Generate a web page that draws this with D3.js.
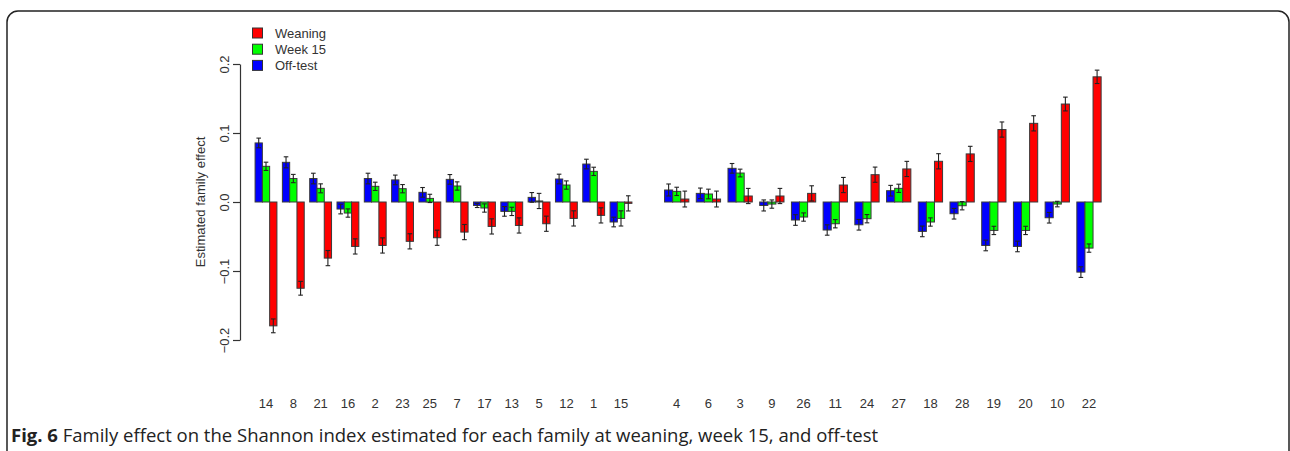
<!DOCTYPE html>
<html>
<head>
<meta charset="utf-8">
<script src="https://cdn.jsdelivr.net/npm/d3@7"></script>
<style>
  html, body { margin: 0; padding: 0; background: #fff; }
  svg { display: block; }
</style>
</head>
<body>
<svg id="chart" width="1290" height="451"></svg>
<script>
// ---------- data ----------
const categoriesLeft  = ["14","8","21","16","2","23","25","7","17","13","5","12","1","15"];
const categoriesRight = ["4","6","3","9","26","11","24","27","18","28","19","20","10","22"];

const seriesNames = ["Weaning", "Week 15", "Off-test"];
const seriesColors = ["#ff0000", "#00ff00", "#0000ff"];

// values, left block then right block
const weaning = [-0.1795, -0.125, -0.0813, -0.0644, -0.063, -0.057, -0.0518, -0.0436, -0.0354, -0.034, -0.0315, -0.0238, -0.0194, -0.002,
                  0.0043, 0.0043, 0.0087, 0.0087, 0.0125, 0.0246, 0.0396, 0.0479, 0.059, 0.0697, 0.105, 0.114, 0.142, 0.1814];
const week15  = [0.0517, 0.034, 0.0198, -0.016, 0.0227, 0.0193, 0.0052, 0.0232, -0.0087, -0.0136, 0.0015, 0.0246, 0.0444, -0.0238,
                  0.0154, 0.0116, 0.042, -0.003, -0.0218, -0.0315, -0.0242, 0.0198, -0.029, -0.0054, -0.0412, -0.0412, -0.003, -0.0668];
const offtest = [0.0856, 0.0575, 0.034, -0.0102, 0.034, 0.032, 0.014, 0.0328, -0.005, -0.0136, 0.0067, 0.0333, 0.055, -0.029,
                  0.0174, 0.0125, 0.0488, -0.005, -0.0261, -0.0406, -0.033, 0.0164, -0.0426, -0.017, -0.063, -0.0644, -0.0228, -0.1016];

// standard errors
const weaningSE = [0.010, 0.010, 0.011, 0.011, 0.011, 0.011, 0.011, 0.011, 0.011, 0.011, 0.011, 0.011, 0.011, 0.011,
                   0.0115, 0.0115, 0.011, 0.011, 0.011, 0.011, 0.011, 0.011, 0.011, 0.011, 0.011, 0.011, 0.010, 0.0097];
const week15SE  = [0.006, 0.006, 0.0065, 0.006, 0.006, 0.006, 0.006, 0.006, 0.006, 0.006, 0.011, 0.006, 0.006, 0.011,
                   0.006, 0.007, 0.0056, 0.006, 0.006, 0.006, 0.006, 0.006, 0.006, 0.006, 0.006, 0.006, 0.004, 0.006];
const offtestSE = [0.007, 0.008, 0.0077, 0.007, 0.0077, 0.007, 0.007, 0.007, 0.003, 0.007, 0.007, 0.007, 0.007, 0.007,
                   0.0087, 0.0077, 0.007, 0.008, 0.0077, 0.0075, 0.0077, 0.0077, 0.0077, 0.0077, 0.0077, 0.0077, 0.0077, 0.0077];

const yTicks = [-0.2, -0.1, 0.0, 0.1, 0.2];
const yTitle = "Estimated family effect";
const captionBold = "Fig. 6";
const captionText = " Family effect on the Shannon index estimated for each family at weaning, week 15, and off-test";

// ---------- layout ----------
const svg = d3.select("#chart");

// frame
svg.append("rect")
  .attr("x", 7).attr("y", 11).attr("width", 1282).attr("height", 470)
  .attr("rx", 11).attr("ry", 11)
  .attr("fill", "none").attr("stroke", "#222").attr("stroke-width", 1.5);

const y = d3.scaleLinear().domain([-0.2, 0.2]).range([340, 64]);

const xLeft = d3.scaleBand().domain(categoriesLeft).range([252.35, 634.65]).paddingInner(0.2).paddingOuter(0.1);
const xRight = d3.scaleBand().domain(categoriesRight).range([660.85, 1104.85]).paddingInner(0.234).paddingOuter(0.117);

const allCats = categoriesLeft.concat(categoriesRight);
function groupScale(i) { return i < categoriesLeft.length ? xLeft : xRight; }

const seriesOrder = ["Off-test", "Week 15", "Weaning"];
const seriesData = {
  "Weaning": { v: weaning, se: weaningSE, c: seriesColors[0] },
  "Week 15": { v: week15, se: week15SE, c: seriesColors[1] },
  "Off-test": { v: offtest, se: offtestSE, c: seriesColors[2] }
};

const bars = [];
allCats.forEach((cat, i) => {
  const xs = groupScale(i);
  const inner = d3.scaleBand().domain(seriesOrder).range([0, xs.bandwidth()]);
  seriesOrder.forEach(s => {
    const d = seriesData[s];
    bars.push({ x: xs(cat) + inner(s), w: inner.bandwidth(), v: d.v[i], se: d.se[i], c: d.c });
  });
});

const g = svg.append("g");
g.selectAll("rect.bar").data(bars).enter().append("rect")
  .attr("class", "bar")
  .attr("x", d => d.x)
  .attr("y", d => Math.min(y(d.v), y(0)))
  .attr("width", d => d.w)
  .attr("height", d => Math.max(Math.abs(y(d.v) - y(0)), 0.8))
  .attr("fill", d => d.c)
  .attr("stroke", "#3a3a3a").attr("stroke-width", 1);

// error bars
const eb = g.selectAll("g.err").data(bars).enter().append("g").attr("class", "err")
  .attr("stroke", "#222").attr("stroke-width", 1.1);
eb.append("line")
  .attr("x1", d => d.x + d.w / 2).attr("x2", d => d.x + d.w / 2)
  .attr("y1", d => y(d.v + d.se)).attr("y2", d => y(d.v - d.se));
eb.append("line")
  .attr("x1", d => d.x + d.w / 2 - 2.3).attr("x2", d => d.x + d.w / 2 + 2.3)
  .attr("y1", d => y(d.v + d.se)).attr("y2", d => y(d.v + d.se));
eb.append("line")
  .attr("x1", d => d.x + d.w / 2 - 2.3).attr("x2", d => d.x + d.w / 2 + 2.3)
  .attr("y1", d => y(d.v - d.se)).attr("y2", d => y(d.v - d.se));

// y axis
const yAxis = d3.axisLeft(y).tickValues(yTicks).tickFormat(d3.format(".1f")).tickSize(7).tickSizeOuter(0);
const ya = svg.append("g").attr("transform", "translate(240,0)").call(yAxis);
ya.select(".domain").attr("stroke", "#333").attr("stroke-width", 1.2);
ya.selectAll(".tick line").attr("stroke", "#333").attr("stroke-width", 1.2);
ya.selectAll(".tick text")
  .attr("font-family", "Liberation Sans, Arial, sans-serif").attr("font-size", 13).attr("fill", "#333")
  .attr("text-anchor", "middle")
  .attr("x", 0).attr("y", 0).attr("dy", 0)
  .attr("transform", "translate(-11,0) rotate(-90)");

// y title
svg.append("text")
  .attr("transform", "translate(205,202) rotate(-90)")
  .attr("text-anchor", "middle")
  .attr("font-family", "Liberation Sans, Arial, sans-serif").attr("font-size", 13).attr("fill", "#333")
  .text(yTitle);

// x labels
function xLabels(scale) {
  const ax = d3.axisBottom(scale).tickSize(0).tickPadding(0);
  const gx = svg.append("g").attr("transform", "translate(0,399)").call(ax);
  gx.select(".domain").remove();
  gx.selectAll(".tick text")
    .attr("font-family", "Liberation Sans, Arial, sans-serif").attr("font-size", 13).attr("fill", "#333")
    .attr("dy", "0.71em");
}
xLabels(xLeft);
xLabels(xRight);

// legend
const legend = svg.append("g");
seriesNames.forEach((name, i) => {
  const cy = 33 + i * 16.2;
  legend.append("rect").attr("x", 252.5).attr("y", cy - 5).attr("width", 10).attr("height", 10)
    .attr("fill", seriesColors[i]).attr("stroke", "#333").attr("stroke-width", 1);
  legend.append("text").attr("x", 275).attr("y", cy).attr("dy", "0.35em")
    .attr("font-family", "Liberation Sans, Arial, sans-serif").attr("font-size", 13).attr("fill", "#333")
    .text(name);
});

// caption
const cap = svg.append("text").attr("x", 11).attr("y", 442)
  .attr("font-family", "Open Sans, sans-serif").attr("font-size", 18.5).attr("fill", "#222");
cap.append("tspan").attr("font-weight", "bold").text(captionBold);
cap.append("tspan").text(captionText);
</script>
</body>
</html>
